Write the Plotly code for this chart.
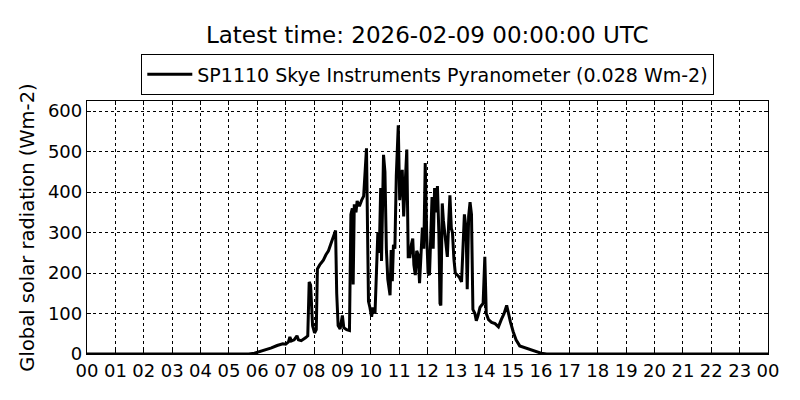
import plotly.graph_objects as go

hours = [0, 5.7, 5.9, 6.1, 6.3, 6.5, 6.7, 6.9, 7.0, 7.1, 7.15, 7.2, 7.3, 7.4, 7.45, 7.55, 7.7, 7.78,
         7.83, 7.88, 7.95, 8.02, 8.08, 8.12, 8.2, 8.33, 8.42, 8.51, 8.62, 8.7, 8.76, 8.8, 8.85, 8.92,
         9.0, 9.05, 9.15, 9.25, 9.3, 9.35, 9.38, 9.42, 9.48, 9.52, 9.6, 9.68, 9.75, 9.85, 9.92, 9.97,
         10.03, 10.08, 10.15, 10.2, 10.25, 10.3, 10.35, 10.38, 10.45, 10.5, 10.55, 10.6, 10.65, 10.68,
         10.72, 10.76, 10.8, 10.85, 10.9, 10.97, 11.02, 11.07, 11.11, 11.16, 11.22, 11.27, 11.32, 11.38,
         11.43, 11.48, 11.52, 11.57, 11.62, 11.67, 11.72, 11.76, 11.82, 11.87, 11.92, 11.97, 12.02,
         12.07, 12.12, 12.16, 12.2, 12.25, 12.3, 12.35, 12.4, 12.44, 12.47, 12.52, 12.56, 12.6, 12.65,
         12.7, 12.75, 12.79, 12.84, 12.88, 12.93, 12.98, 13.05, 13.12, 13.2, 13.26, 13.3, 13.36, 13.4,
         13.45, 13.5, 13.55, 13.6, 13.67, 13.72, 13.78, 13.85, 13.9, 13.96, 14.02, 14.07, 14.15, 14.26,
         14.38, 14.5, 14.6, 14.7, 14.79, 14.85, 14.92, 15.02, 15.12, 15.25, 15.5, 15.7, 15.85, 16.0,
         16.2, 24]
radiation = [0, 0, 2, 6, 10, 15, 21, 25, 24, 30, 42, 32, 35, 45, 35, 33, 40, 45,
             178, 170, 70, 52, 60, 210, 220, 232, 245, 255, 277, 295, 305, 150, 70, 62,
             95, 65, 60, 58, 345, 360, 172, 370, 350, 378, 365, 380, 390, 508, 130, 115,
             92, 115, 100, 200, 300, 250, 410, 230, 492, 450, 260, 185, 160, 145,
             257, 180, 270, 260, 440, 565, 380, 420, 455, 340, 440, 505, 240, 240,
             270, 285, 220, 195, 255, 245, 175, 240, 312, 260, 472, 300, 200,
             195, 310, 388, 260, 410, 350, 415, 300, 125, 120, 372, 330, 300, 260,
             240, 330, 392, 310, 300, 235, 200, 195, 190, 178, 280, 345, 310, 160,
             340, 375, 345, 110, 100, 82, 95, 115, 120, 125, 240, 100, 85, 78,
             75, 67, 85, 100, 120, 100, 80, 55, 35, 20, 14, 9, 6, 2,
             0, 0]

tick_vals = list(range(0, 25))
tick_text = ["%02d" % (h % 24) for h in tick_vals]
y_ticks = [0, 100, 200, 300, 400, 500, 600]

title_text = "Latest time: 2026-02-09 00:00:00 UTC"
series_name = "SP1110 Skye Instruments Pyranometer (0.028 Wm-2)"
y_label = "Global solar radiation (Wm-2)"

fig = go.Figure()
fig.add_trace(go.Scatter(x=hours, y=radiation, mode="lines", name=series_name,
                         line=dict(color="black", width=3)))

font_family = "DejaVu Sans"
fig.update_layout(
    width=800, height=400,
    margin=dict(l=87, r=32, t=101, b=46, autoexpand=False),
    paper_bgcolor="white", plot_bgcolor="white",
    font=dict(family=font_family, color="black", size=18),
    title=dict(text=title_text, x=0.534, xanchor="center", y=0.912, yanchor="middle",
               font=dict(size=23, family=font_family, color="black")),
    showlegend=True,
    legend=dict(orientation="h", x=0.5, xanchor="center", y=1.185, yanchor="top",
                bordercolor="black", borderwidth=1.3, bgcolor="white", itemwidth=45,
                font=dict(size=19, family=font_family)),
)
fig.update_xaxes(range=[0, 24], tickvals=tick_vals, ticktext=tick_text, automargin=False,
                 showline=True, linecolor="black", linewidth=1.3, mirror="ticks",
                 ticks="inside", ticklen=4, tickcolor="black",
                 showgrid=True, gridcolor="black", griddash="dot", gridwidth=1,
                 zeroline=False, tickfont=dict(size=18))
fig.update_yaxes(range=[0, 625], tickvals=y_ticks, automargin=False,
                 showline=True, linecolor="black", linewidth=1.3, mirror="ticks",
                 ticks="inside", ticklen=4, tickcolor="black",
                 showgrid=True, gridcolor="black", griddash="dot", gridwidth=1,
                 zeroline=False, tickfont=dict(size=18),
                 title=dict(text=y_label, font=dict(size=19.5), standoff=8))

fig.write_html("out.html", config={"displayModeBar": False},
               post_script="document.body.style.margin='0';")
